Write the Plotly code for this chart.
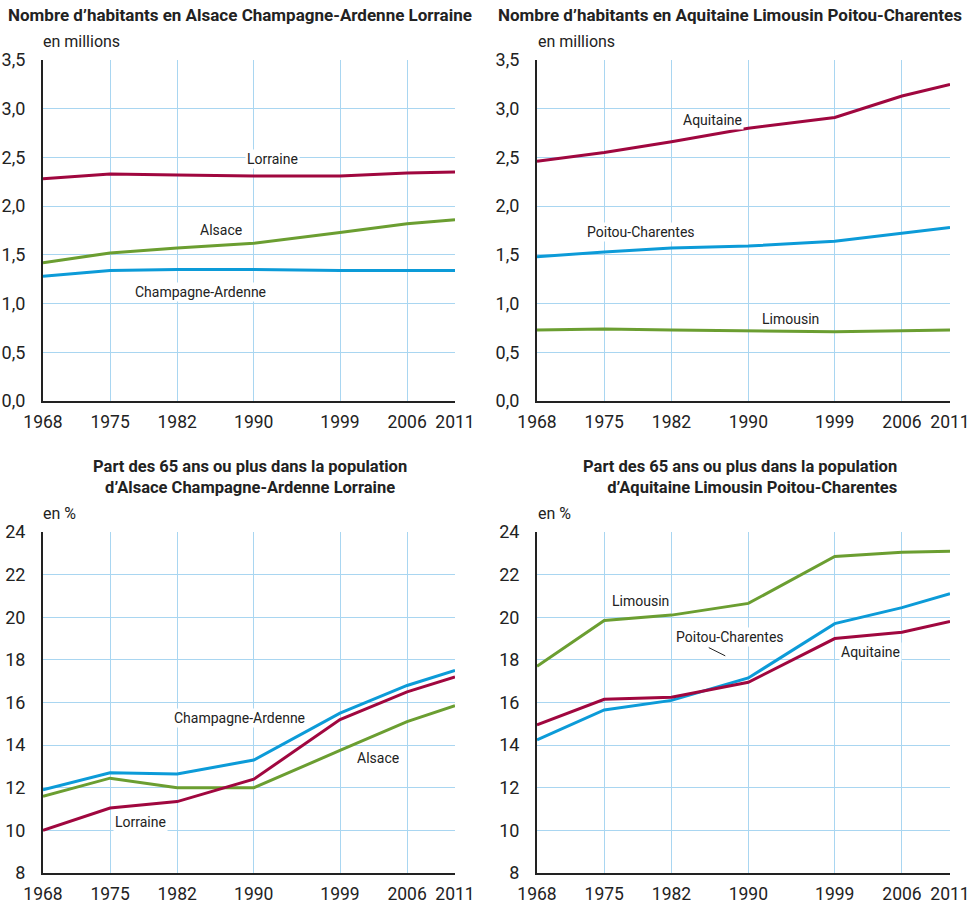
import plotly.graph_objects as go

years = [1968, 1975, 1982, 1990, 1999, 2006, 2011]
year_labels = ["1968", "1975", "1982", "1990", "1999", "2006", "2011"]

# Population (millions)
pop_lorraine = [2.28, 2.33, 2.32, 2.31, 2.31, 2.34, 2.35]
pop_alsace = [1.42, 1.52, 1.57, 1.62, 1.73, 1.82, 1.86]
pop_champagne = [1.28, 1.34, 1.35, 1.35, 1.34, 1.34, 1.34]
pop_aquitaine = [2.46, 2.55, 2.66, 2.80, 2.91, 3.13, 3.25]
pop_poitou = [1.48, 1.53, 1.57, 1.59, 1.64, 1.72, 1.78]
pop_limousin = [0.73, 0.74, 0.73, 0.72, 0.71, 0.72, 0.73]

# Share of 65+ (%)
old_champagne = [11.9, 12.7, 12.65, 13.3, 15.5, 16.8, 17.5]
old_lorraine = [10.0, 11.05, 11.35, 12.4, 15.2, 16.5, 17.2]
old_alsace = [11.6, 12.45, 12.0, 12.0, 13.75, 15.1, 15.85]
old_limousin = [17.7, 19.85, 20.1, 20.65, 22.85, 23.05, 23.1]
old_poitou = [14.25, 15.65, 16.1, 17.15, 19.7, 20.45, 21.1]
old_aquitaine = [14.95, 16.15, 16.25, 16.95, 19.0, 19.3, 19.8]

pop_ticks = [0, 0.5, 1.0, 1.5, 2.0, 2.5, 3.0, 3.5]
pct_ticks = [8, 10, 12, 14, 16, 18, 20, 22, 24]

RED = "#a0073f"
GREEN = "#6b9e31"
BLUE = "#0c9bd8"
GRID = "#a9d6f1"
FONT = "Roboto, Arial, sans-serif"
TXT = "#222222"

W, H = 976, 906

def px_x(a, b):
    return [a / W, b / W]

def px_y(top, bottom):
    return [1 - bottom / H, 1 - top / H]

fig = go.Figure()

def add_line(x, y, color, xa, ya):
    fig.add_trace(go.Scatter(x=x, y=y, mode="lines", line=dict(color=color, width=3),
                             xaxis=xa, yaxis=ya, showlegend=False, hoverinfo="skip"))

# panel 1
add_line(years, pop_lorraine, RED, "x", "y")
add_line(years, pop_alsace, GREEN, "x", "y")
add_line(years, pop_champagne, BLUE, "x", "y")
# panel 2
add_line(years, pop_limousin, GREEN, "x2", "y2")
add_line(years, pop_poitou, BLUE, "x2", "y2")
add_line(years, pop_aquitaine, RED, "x2", "y2")
# panel 3
add_line(years, old_alsace, GREEN, "x3", "y3")
add_line(years, old_champagne, BLUE, "x3", "y3")
add_line(years, old_lorraine, RED, "x3", "y3")
# panel 4
add_line(years, old_limousin, GREEN, "x4", "y4")
add_line(years, old_poitou, BLUE, "x4", "y4")
add_line(years, old_aquitaine, RED, "x4", "y4")

def xaxis(domain, anchor):
    return dict(domain=domain, anchor=anchor, range=[1968, 2011], tickmode="array",
                tickvals=years, ticktext=year_labels, showgrid=True, gridcolor=GRID,
                gridwidth=1, zeroline=False, showline=True, linecolor="#222222",
                linewidth=2, ticks="", ticklabelstandoff=4, automargin=False,
                tickfont=dict(family=FONT, size=17.5, color=TXT))

def yaxis(domain, anchor, rng, ticks, fmt):
    return dict(domain=domain, anchor=anchor, range=rng, tickmode="array",
                tickvals=ticks, tickformat=fmt, showgrid=True, gridcolor=GRID,
                gridwidth=1, zeroline=False, showline=True, linecolor="#222222",
                linewidth=2, ticks="", ticklabelstandoff=12, automargin=False,
                tickfont=dict(family=FONT, size=18, color=TXT))

dxl = px_x(43, 455)
dxr = px_x(537, 950)
dyt = px_y(60, 401)
dyb = px_y(532, 873)

fig.update_layout(
    width=W, height=H, margin=dict(l=0, r=0, t=0, b=0, autoexpand=False),
    paper_bgcolor="white", plot_bgcolor="white", separators=", ",
    xaxis=xaxis(dxl, "y"), yaxis=yaxis(dyt, "x", [0, 3.5], pop_ticks, ".1f"),
    xaxis2=xaxis(dxr, "y2"), yaxis2=yaxis(dyt, "x2", [0, 3.5], pop_ticks, ".1f"),
    xaxis3=xaxis(dxl, "y3"), yaxis3=yaxis(dyb, "x3", [8, 24], pct_ticks, "d"),
    xaxis4=xaxis(dxr, "y4"), yaxis4=yaxis(dyb, "x4", [8, 24], pct_ticks, "d"),
    font=dict(family=FONT, color=TXT),
)

ann = []
def title(text, xpx, ypx, align="center", xanchor="center", size=17):
    ann.append(dict(text=text, x=xpx / W, y=1 - ypx / H, xref="paper", yref="paper",
                    showarrow=False, xanchor=xanchor, yanchor="middle", align=align,
                    font=dict(family=FONT, size=size, color=TXT)))

title("<b>Nombre d’habitants en Alsace Champagne-Ardenne Lorraine</b>", 240, 15)
title("<b>Nombre d’habitants en Aquitaine Limousin Poitou-Charentes</b>", 730, 15)
title("<b>Part des 65 ans ou plus dans la population<br>d’Alsace Champagne-Ardenne Lorraine</b>", 250, 477, size=16.5)
title("<b>Part des 65 ans ou plus dans la population<br>d’Aquitaine Limousin Poitou-Charentes</b>", 899, 477, align="right", xanchor="right", size=16.5)

def unit(text, xpx, ypx):
    ann.append(dict(text=text, x=xpx / W, y=1 - ypx / H, xref="paper", yref="paper",
                    showarrow=False, xanchor="left", yanchor="middle",
                    font=dict(family=FONT, size=16, color=TXT)))

unit("en millions", 41, 41)
unit("en millions", 536, 41)
unit("en %", 41, 513)
unit("en %", 536, 513)

def label(text, x, y, xr, yr):
    ann.append(dict(text=text, x=x, y=y, xref=xr, yref=yr, showarrow=False,
                    xanchor="center", yanchor="middle", bgcolor="white", borderpad=1,
                    font=dict(family=FONT, size=14, color=TXT)))

label("Lorraine", 1991.9, 2.48, "x", "y")
label("Alsace", 1986.6, 1.76, "x", "y")
label("Champagne-Ardenne", 1984.4, 1.12, "x", "y")
label("Aquitaine", 1986.3, 2.885, "x2", "y2")
label("Poitou-Charentes", 1978.8, 1.735, "x2", "y2")
label("Limousin", 1994.4, 0.84, "x2", "y2")
label("Champagne-Ardenne", 1988.5, 15.28, "x3", "y3")
label("Alsace", 2003.0, 13.4, "x3", "y3")
label("Lorraine", 1978.2, 10.4, "x3", "y3")
label("Limousin", 1978.8, 20.77, "x4", "y4")
label("Poitou-Charentes", 1988.1, 19.08, "x4", "y4")
label("Aquitaine", 2002.7, 18.38, "x4", "y4")

ann.append(dict(text="", x=1987.6, y=18.19, xref="x4", yref="y4", showarrow=True,
                arrowhead=0, arrowwidth=1, arrowcolor=TXT, ax=-18, ay=-9, standoff=0))

fig.update_layout(annotations=ann)
fig.write_html("out.html", config={"displayModeBar": False},
               post_script="document.body.style.margin='0';document.body.style.overflow='hidden';")
